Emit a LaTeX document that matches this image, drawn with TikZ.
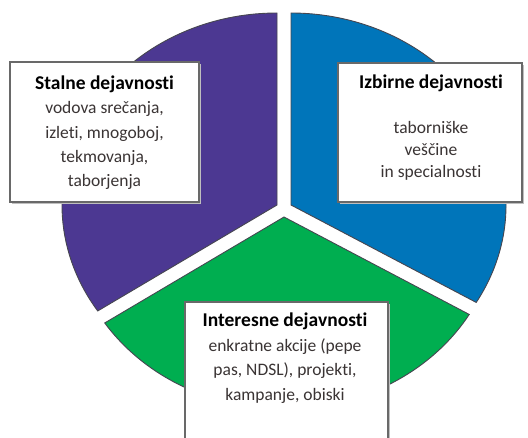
\documentclass[tikz,border=0pt]{standalone}
\usepackage{fontspec}
\setmainfont[Ligatures=NoCommon]{Carlito}
\usetikzlibrary{shadows}
\definecolor{pur}{RGB}{76,56,146}
\definecolor{blu}{RGB}{0,117,186}
\definecolor{grn}{RGB}{0,174,80}
\definecolor{sectoredge}{RGB}{70,70,80}
\definecolor{boxedge}{RGB}{105,105,105}
\definecolor{bodytxt}{RGB}{58,52,52}
\begin{document}
\begin{tikzpicture}[x=1pt,y=1pt,
  sector/.style={draw=sectoredge, line width=0.9pt, line join=miter},
  infobox/.style={draw=boxedge, line width=1.3pt, fill=white, inner sep=0pt, outer sep=0pt,
    drop shadow={shadow xshift=2pt, shadow yshift=-2pt, fill=black!25, opacity=1}},
  boxtext/.style={align=center, inner sep=0pt, anchor=base, text=bodytxt,
    font=\fontsize{17.5}{24.4}\selectfont}]
\useasboundingbox (0,0) rectangle (528,437);
\begin{scope}
\clip (0,0) rectangle (528,437);
% sectors
\filldraw[sector, fill=pur] (277,232) coordinate (pa) -- (277,424)
  arc[start angle=90, end angle=213.5, x radius=215, y radius=192] -- cycle;
\filldraw[sector, fill=blu] (291,232) coordinate (ba) -- ++(-30.5:215 and 192)
  arc[start angle=-30.5, end angle=90, x radius=215, y radius=192] -- cycle;
\filldraw[sector, fill=grn] (284,220) coordinate (ga) -- ++(213.5:215 and 192)
  arc[start angle=213.5, end angle=329.5, x radius=215, y radius=192] -- cycle;
% boxes
\node[infobox, anchor=south west, minimum width=189, minimum height=140] (b1) at (10,235) {};
\node[infobox, anchor=south west, minimum width=184, minimum height=139] (b2) at (338,235) {};
\node[infobox, anchor=south west, minimum width=203, minimum height=160] (b3) at (185,-25) {};
% texts (anchor = baseline of last line)
\node[boxtext] (t1) at (104.5,250) {{\fontsize{19.5}{24.4}\selectfont\bfseries\color{black}Stalne dejavnosti}\\vodova srečanja,\\izleti, mnogoboj,\\tekmovanja,\\taborjenja};
\node[boxtext, font=\fontsize{17.5}{22.3}\selectfont] (t2) at (431,259) {{\fontsize{19.5}{22.3}\selectfont\bfseries\color{black}Izbirne dejavnosti}\\[22.3pt]taborniške\\veščine\\in specialnosti};
\node[boxtext] (t3) at (285,37) {{\fontsize{19.5}{24.4}\selectfont\bfseries\color{black}Interesne dejavnosti}\\enkratne akcije (pepe\\pas, NDSL), projekti,\\kampanje, obiski};
\end{scope}
\end{tikzpicture}
\end{document}
